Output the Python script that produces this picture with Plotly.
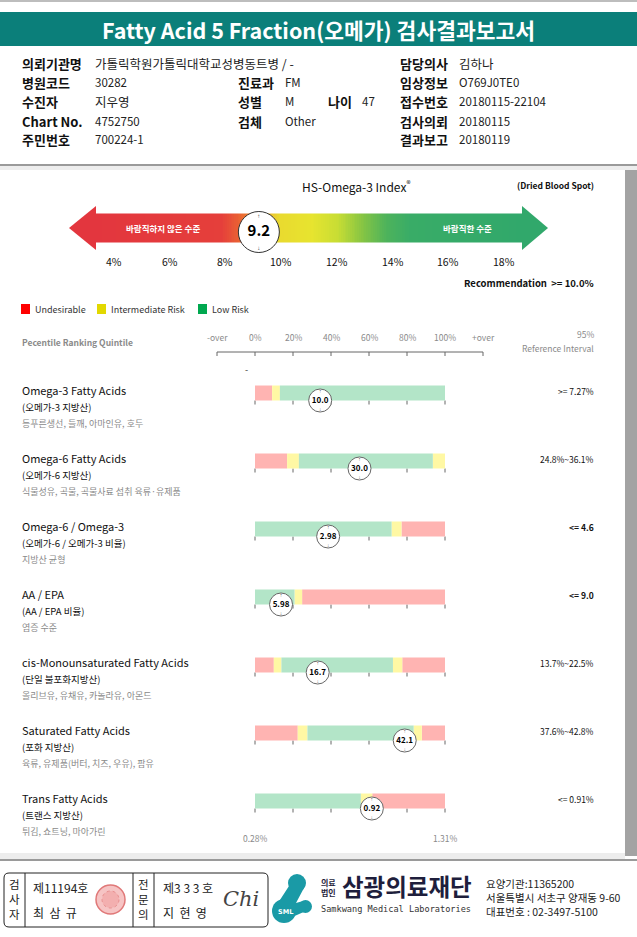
import plotly.graph_objects as go
import numpy as np

W, H = 637, 937
FONT = "Noto Sans CJK KR"

# ---------------- data ----------------
index_ticks = [4, 6, 8, 10, 12, 14, 16, 18]
index_value = 9.2
recommendation = "Recommendation  &gt;= 10.0%"

row_titles = ["Omega-3 Fatty Acids", "Omega-6 Fatty Acids", "Omega-6 / Omega-3", "AA / EPA",
              "cis-Monounsaturated Fatty Acids", "Saturated Fatty Acids", "Trans Fatty Acids"]
row_subtitles = ["(오메가-3 지방산)", "(오메가-6 지방산)", "(오메가-6 / 오메가-3 비율)", "(AA / EPA 비율)",
                 "(단일 불포화지방산)", "(포화 지방산)", "(트랜스 지방산)"]
row_foods = ["등푸른생선, 들깨, 아마인유, 호두", "식물성유, 곡물, 곡물사료 섭취 육류·유제품", "지방산 균형",
             "염증 수준", "올리브유, 유채유, 카놀라유, 아몬드", "육류, 유제품(버터, 치즈, 우유), 팜유",
             "튀김, 쇼트닝, 마아가린"]
ref_intervals = ["&gt;= 7.27%", "24.8%~36.1%", "&lt;= 4.6", "&lt;= 9.0", "13.7%~22.5%", "37.6%~42.8%", "&lt;= 0.91%"]
ref_bold = [False, False, True, True, False, False, False]
value_labels = ["10.0", "30.0", "2.98", "5.98", "16.7", "42.1", "0.92"]
value_pct = [34.3, 55.0, 38.5, 13.7, 33.0, 78.8, 61.5]
zone_edges = [
    [0, 9.0, 13.1, 100],
    [0, 16.9, 23.1, 93.6, 100],
    [0, 71.9, 77.1, 100],
    [0, 20.8, 24.8, 100],
    [0, 9.9, 13.9, 72.6, 77.5, 100],
    [0, 22.5, 27.6, 83.5, 87.8, 100],
    [0, 55.7, 61.7, 100],
]
zone_codes = [
    ["U", "I", "L"],
    ["U", "I", "L", "I"],
    ["L", "I", "U"],
    ["L", "I", "U"],
    ["U", "I", "L", "I", "U"],
    ["U", "I", "L", "I", "U"],
    ["L", "I", "U"],
]
quintile_labels = ["-over", "0%", "20%", "40%", "60%", "80%", "100%", "+over"]
quintile_pos = [-20, 0, 20, 40, 60, 80, 100, 120]
trans_range_labels = ["0.28%", "1.31%"]

# ---------------- styles ----------------
ZONE_COL = {"U": "#FFB4B2", "I": "#FFF8A4", "L": "#B3E5C8"}
LEG_COL = {"U": "#FF0000", "I": "#E2D800", "L": "#00A84F"}
TEAL = "#0B7F7A"

fig = go.Figure()
ann = []
shapes = []


def T(x, y, text, size=11, color="#000", bold=False, anchor="left", ref="x", family=FONT):
    ann.append(dict(x=x, y=y, xref=ref, yref="y", text=(f"<b>{text}</b>" if bold else text),
                    showarrow=False, xanchor=anchor, yanchor="middle", borderpad=0,
                    font=dict(size=size, color=color, family=family)))


def R(x0, y0, x1, y1, fill, line=None, layer="below", ref="x"):
    shapes.append(dict(type="rect", xref=ref, yref="y", x0=x0, y0=y0, x1=x1, y1=y1,
                       fillcolor=fill, line=dict(width=0 if line is None else 1, color=line or fill),
                       layer=layer))


def L(x0, y0, x1, y1, color="#999", width=1, ref="x", layer="above"):
    shapes.append(dict(type="line", xref=ref, yref="y", x0=x0, y0=y0, x1=x1, y1=y1,
                       line=dict(color=color, width=width), layer=layer))


def has_hangul(s):
    return any("\uac00" <= ch <= "\ud7a3" for ch in s)


# ---------------- page frame ----------------
R(0, 0, W, 2, "#BDBDBD")
R(0, 12, W, 46, TEAL)
T(W / 2, 29.5, "Fatty Acid 5 Fraction(오메가) 검사결과보고서", size=21.5, color="white", bold=True, anchor="center")

header = [
    (63, [(21, "의뢰기관명", True), (94, "가톨릭학원가톨릭대학교성병동트병 / -", False),
          (399, "담당의사", True), (458, "김하나", False)]),
    (82, [(21, "병원코드", True), (94, "30282", False), (237, "진료과", True), (284, "FM", False),
          (399, "임상정보", True), (458, "O769J0TE0", False)]),
    (101, [(21, "수진자", True), (94, "지우영", False), (237, "성별", True), (284, "M", False),
           (327, "나이", True), (361, "47", False), (399, "접수번호", True), (458, "20180115-22104", False)]),
    (121, [(21, "Chart No.", True), (94, "4752750", False), (237, "검체", True), (284, "Other", False),
           (399, "검사의뢰", True), (458, "20180115", False)]),
    (139, [(21, "주민번호", True), (94, "700224-1", False), (399, "결과보고", True), (458, "20180119", False)]),
]
for y, items in header:
    for x, txt, b in items:
        if b:
            T(x, y, txt, size=13, color="#111", bold=True)
        else:
            T(x, y, txt, size=12.5 if has_hangul(txt) else 11.5, color="#222")

# panel
R(0, 164, W, 166, "#9A9A9A")
R(0, 166, W, 170, "#EDEDED")
R(625, 170, W, 856, "#A3A3A3")
R(0, 853, 625, 859, "#EDEDED")
R(0, 859, W, 861, "#9A9A9A")

# ---------------- HS-Omega-3 index ----------------
T(356, 186, "HS-Omega-3 Index<sup>®</sup>", size=12, color="#111", anchor="center")
T(595, 185, "(Dried Blood Spot)", size=8.5, color="#111", bold=True, anchor="right")

# axis 3 scale: value -> pixels (4% at 114px, 18% at 504px)
px_per = (504 - 114) / 14.0
x3_range = [4 - 114 / px_per, 4 + (W - 114) / px_per]


def to3(px):
    return 4 + (px - 114) / px_per


body_l, body_r = to3(95), to3(523)
grad_stops = [(body_l, "#E3363E"), (to3(222), "#E53F3B"), (to3(240), "#EA6433"), (to3(256), "#F0962E"),
              (to3(279), "#E9DA2F"), (to3(312), "#E7E42F"), (to3(338), "#C7DD34"), (to3(362), "#87C543"),
              (to3(386), "#4EB35B"), (to3(410), "#39AC67"), (body_r, "#31A86B")]
cs = [[(v - body_l) / (body_r - body_l), c] for v, c in grad_stops]
edges = np.linspace(body_l, body_r, 241)
centers = (edges[:-1] + edges[1:]) / 2
fig.add_trace(go.Heatmap(x=edges, y=[213.5, 242.5], z=[centers], colorscale=cs, zmin=body_l, zmax=body_r,
                         showscale=False, xaxis="x3", yaxis="y", hoverinfo="skip"))
shapes.append(dict(type="path", xref="x", yref="y", path="M 69,228 L 96,206 L 96,250 Z",
                   fillcolor="#E3363E", line=dict(width=0), layer="above"))
shapes.append(dict(type="path", xref="x", yref="y", path="M 522,206 L 548,228 L 522,250 Z",
                   fillcolor="#31A86B", line=dict(width=0), layer="above"))
T(163, 228, "바람직하지 않은 수준", size=8.5, color="white", bold=True, anchor="center")
T(467, 228, "바람직한 수준", size=8.5, color="white", bold=True, anchor="center")

fig.add_trace(go.Scatter(x=[index_value], y=[232], xaxis="x3", yaxis="y", mode="markers+text",
                         marker=dict(size=41, color="white", line=dict(color="#333", width=1)),
                         text=[f"<b>{index_value}</b>"], textposition="middle center",
                         textfont=dict(size=15, color="#000", family=FONT), hoverinfo="skip"))
fig.add_trace(go.Scatter(x=[index_value, index_value], y=[216, 248], xaxis="x3", yaxis="y", mode="text",
                         text=["↑", "↓"], textfont=dict(size=6, color="#333"), hoverinfo="skip"))
for v in index_ticks:
    T(v, 261, f"{v}%", size=10.5, color="#111", anchor="center", ref="x3")
T(595, 283, recommendation, size=9.5, color="#111", bold=True, anchor="right")

# legend
for x0, code, label in [(21, "U", "Undesirable"), (97, "I", "Intermediate Risk"), (198, "L", "Low Risk")]:
    R(x0, 304, x0 + 9, 314, LEG_COL[code], layer="above")
    T(x0 + 13, 309, label, size=9, color="#333")

# percentile header
T(21, 342, "<b>Pecentile Ranking Quintile</b>", size=8.5, color="#8A8A8A")
T(595, 334, "95%", size=8.5, color="#8A8A8A", anchor="right")
T(595, 348, "Reference Interval", size=8.5, color="#8A8A8A", anchor="right")
x2_range = [(0 - 255) / 1.9, (W - 255) / 1.9]
for lab, p in zip(quintile_labels, quintile_pos):
    T(p, 337, lab, size=8.5, color="#8A8A8A", anchor="center", ref="x2")
    L(p, 352, p, 356, color="#666", ref="x2")
L(quintile_pos[0], 352, quintile_pos[-1], 352, color="#666", ref="x2")
T(246, 369, "-", size=9, color="#333", anchor="center")

# ---------------- rows ----------------
row_y = [393 + 68 * i for i in range(len(row_titles))]
BAR_H = 15
for code in ["U", "I", "L"]:
    ys, xs, bs = [], [], []
    for i, (ed, cds) in enumerate(zip(zone_edges, zone_codes)):
        for j, c in enumerate(cds):
            if c == code:
                ys.append(row_y[i])
                bs.append(ed[j])
                xs.append(ed[j + 1] - ed[j])
    fig.add_trace(go.Bar(orientation="h", x=xs, base=bs, y=ys, width=BAR_H, xaxis="x2", yaxis="y",
                         marker=dict(color=ZONE_COL[code], line=dict(width=0)), hoverinfo="skip"))

for i, c in enumerate(row_y):
    T(21, c - 3, row_titles[i], size=11, color="#111")
    T(21, c + 14, row_subtitles[i], size=9.5, color="#111")
    T(21, c + 30, row_foods[i], size=9, color="#8A8A8A")
    T(595, c - 2, ref_intervals[i], size=8.5, color="#111", bold=ref_bold[i], anchor="right")
    for p in quintile_pos[1:-1]:
        L(p, c + BAR_H / 2, p, c + BAR_H / 2 + 4, color="#666", ref="x2", layer="below")

marker_y = [c + BAR_H / 2 for c in row_y]
fig.add_trace(go.Scatter(x=value_pct, y=marker_y, xaxis="x2", yaxis="y", mode="markers+text",
                         marker=dict(size=23, color="white", line=dict(color="#666", width=1)),
                         text=[f"<b>{v}</b>" for v in value_labels], textposition="middle center",
                         textfont=dict(size=8, color="#000", family=FONT), hoverinfo="skip"))
fig.add_trace(go.Scatter(x=value_pct + value_pct, y=[m - 9 for m in marker_y] + [m + 9 for m in marker_y],
                         xaxis="x2", yaxis="y", mode="text", text=["↑"] * 7 + ["↓"] * 7,
                         textfont=dict(size=5, color="#555"), hoverinfo="skip"))
T(0, row_y[-1] + 37, trans_range_labels[0], size=8.5, color="#8A8A8A", anchor="center", ref="x2")
T(100, row_y[-1] + 37, trans_range_labels[1], size=8.5, color="#8A8A8A", anchor="center", ref="x2")

# ---------------- footer ----------------
shapes.append(dict(type="path", xref="x", yref="y",
                   path="M 9,873 L 263,873 Q 268,873 268,878 L 268,922 Q 268,927 263,927 L 9,927 "
                        "Q 4,927 4,922 L 4,878 Q 4,873 9,873 Z",
                   fillcolor="white", line=dict(color="#222", width=1), layer="above"))
for xv in [25, 133, 154]:
    L(xv, 873, xv, 927, color="#222")
for k, (a, b) in enumerate(zip("검사자", "전문의")):
    T(14.5, 884 + 15 * k, a, size=11.5, color="#222", anchor="center")
    T(143.5, 884 + 15 * k, b, size=11.5, color="#222", anchor="center")
T(32, 887, "제11194호", size=12, color="#222")
T(32, 912, "최  삼  규", size=12, color="#222")
T(162, 887, "제3 3 3 호", size=12, color="#222")
T(162, 912, "지  현  영", size=12, color="#222")
shapes.append(dict(type="circle", xref="x", yref="y", x0=96, y0=885, x1=125, y1=914,
                   fillcolor="#F6C4C4", line=dict(color="#E07878", width=1.5), layer="above"))
shapes.append(dict(type="circle", xref="x", yref="y", x0=102, y0=891, x1=119, y1=908,
                   fillcolor="#F3AFAF", line=dict(color="#E89090", width=1, dash="dot"), layer="above"))
T(241, 899, "<i>Chi</i>", size=21, color="#444", anchor="center", family="DejaVu Serif")

LOGO = "#1A9AA6"
shapes.append(dict(type="circle", xref="x", yref="y", x0=288, y0=874, x1=306, y1=892,
                   fillcolor=LOGO, line=dict(width=0), layer="above"))
shapes.append(dict(type="circle", xref="x", yref="y", x0=272, y0=899, x1=296, y1=923,
                   fillcolor=LOGO, line=dict(width=0), layer="above"))
shapes.append(dict(type="circle", xref="x", yref="y", x0=299, y0=900, x1=312, y1=913,
                   fillcolor=LOGO, line=dict(width=0), layer="above"))
shapes.append(dict(type="path", xref="x", yref="y",
                   path="M 289,886 L 305,886 L 296,903 L 303,901 L 306,911 L 290,918 L 278,903 Z",
                   fillcolor=LOGO, line=dict(width=0), layer="above"))
T(285, 912, "<b>SML</b>", size=6.5, color="white", anchor="center", family="DejaVu Sans")
T(320, 887, "<b>의료<br>법인</b>", size=8, color="#1E1E3C")
T(341, 885.5, "삼광의료재단", size=23.5, color="#1E1E3C", bold=True)
T(320, 909, "Samkwang Medical Laboratories", size=8.6, color="#333", family="DejaVu Sans Mono")
T(485, 883, "요양기관:11365200", size=10.5, color="#222")
T(485, 897, "서울특별시 서초구 양재동 9-60", size=10.5, color="#222")
T(485, 911, "대표번호 : 02-3497-5100", size=10.5, color="#222")

fig.update_layout(
    width=W, height=H, margin=dict(l=0, r=0, t=0, b=0), autosize=False,
    paper_bgcolor="white", plot_bgcolor="rgba(0,0,0,0)", showlegend=False, barmode="overlay",
    xaxis=dict(range=[0, W], visible=False, fixedrange=True),
    yaxis=dict(range=[H, 0], visible=False, fixedrange=True),
    xaxis2=dict(range=x2_range, overlaying="x", anchor="y", visible=False, fixedrange=True),
    xaxis3=dict(range=x3_range, overlaying="x", anchor="y", visible=False, fixedrange=True),
    annotations=ann, shapes=shapes,
)
fig.write_html("out.html", config={"displayModeBar": False},
               post_script="document.body.style.margin='0';document.body.style.overflow='hidden';")
